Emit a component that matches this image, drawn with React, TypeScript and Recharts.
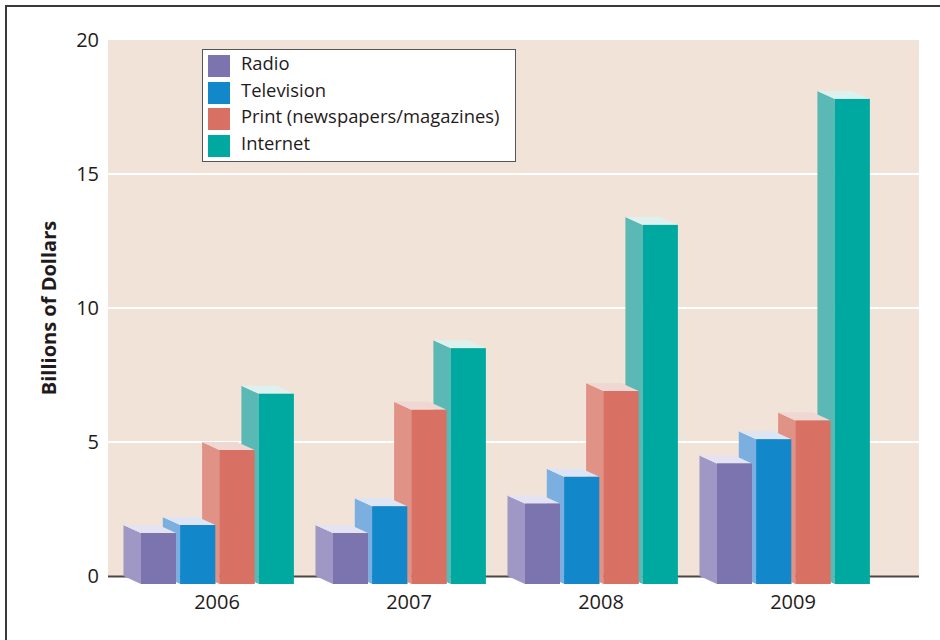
import { BarChart, Bar, XAxis, YAxis, CartesianGrid, Legend } from 'recharts'

const YEARS = ['2006', '2007', '2008', '2009']
const RADIO = [1.9, 1.9, 3.0, 4.5]
const TELEVISION = [2.2, 2.9, 4.0, 5.4]
const PRINT = [5.0, 6.5, 7.2, 6.1]
const INTERNET = [7.1, 8.8, 13.4, 18.1]
const Y_TICKS = [0, 5, 10, 15, 20]

const SERIES = [
  { key: 'radio', label: 'Radio', front: '#7b74ae', side: '#9f97c4', top: '#e5e3f1' },
  { key: 'television', label: 'Television', front: '#1287c9', side: '#7aafdf', top: '#dde5f5' },
  { key: 'print', label: 'Print (newspapers/magazines)', front: '#d87163', side: '#e09286', top: '#efd8d3' },
  { key: 'internet', label: 'Internet', front: '#00a99f', side: '#5bb9b5', top: '#ddf1ee' },
]

const data = YEARS.map((year, i) => ({
  year,
  radio: RADIO[i],
  television: TELEVISION[i],
  print: PRINT[i],
  internet: INTERNET[i],
}))

const FONT = '"Open Sans", sans-serif'
const TEXT = '#1f1b1c'
const BAR_SIZE = 35
const BAR_GAP = 4.3
// fake depth: back face sits up-left of the front face
const DX = 17.5
const DY = 8

type Look = (typeof SERIES)[number]

function faces(x: number, top: number, w: number, base: number, s: Look, withSide: boolean) {
  const bx = x - DX
  return (
    <g>
      {withSide && (
        <polygon
          points={`${bx},${top} ${x},${top + DY} ${x},${base + DY} ${bx},${base}`}
          fill={s.side}
        />
      )}
      <polygon
        points={`${bx},${top} ${bx + w},${top} ${x + w},${top + DY} ${x},${top + DY}`}
        fill={s.top}
      />
      <rect x={x} y={top + DY} width={w} height={base - top} fill={s.front} />
    </g>
  )
}

// left bars stand in front, so each bar repaints the neighbour on its left
function makeShape(idx: number) {
  return (props: any) => {
    const { x, y, width, height, payload } = props
    const s = SERIES[idx]
    const base = y + height
    let prevPart = null
    if (idx > 0) {
      const prev = SERIES[idx - 1]
      const v = payload[s.key]
      const ph = v ? (payload[prev.key] * height) / v : 0
      prevPart = faces(x - BAR_SIZE - BAR_GAP, base - ph, width, base, prev, false)
    }
    return (
      <g>
        {faces(x, y, width, base, s, true)}
        {prevPart}
      </g>
    )
  }
}

function gridLine(props: any) {
  const { x1, x2, y1, y, height, index } = props
  if (Math.abs(y1 - y) < 1) return <g key={`gl-${index}`} />
  const isBase = Math.abs(y1 - (y + height)) < 1
  return (
    <line
      key={`gl-${index}`}
      x1={x1}
      x2={x2}
      y1={isBase ? y1 + 0.5 : y1}
      y2={isBase ? y1 + 0.5 : y1}
      stroke={isBase ? '#4f4747' : '#ffffff'}
      strokeWidth={2}
    />
  )
}

function YLabel(props: any) {
  const vb = props.viewBox || { x: 0, y: 40, width: 108, height: 536 }
  const cy = vb.y + vb.height / 2
  const cx = 56
  return (
    <text
      x={cx}
      y={cy}
      transform={`rotate(-90 ${cx} ${cy})`}
      textAnchor="middle"
      fontFamily={FONT}
      fontWeight={700}
      fontSize={20}
      fill={TEXT}
    >
      Billions of Dollars
    </text>
  )
}

function LegendBox() {
  return (
    <div
      style={{
        boxSizing: 'border-box',
        width: 314,
        height: 113,
        border: '1px solid #555',
        background: '#fff',
        padding: '5px 0 0 5px',
        fontFamily: FONT,
        fontSize: 18.4,
        color: TEXT,
      }}
    >
      {SERIES.map((s) => (
        <div key={s.key} style={{ display: 'flex', alignItems: 'flex-start', height: 26.6 }}>
          <span style={{ width: 22, height: 22, background: s.front, marginRight: 11, flexShrink: 0 }} />
          <span style={{ lineHeight: '16px', whiteSpace: 'nowrap' }}>{s.label}</span>
        </div>
      ))}
    </div>
  )
}

export default function App() {
  return (
    <div style={{ position: 'absolute', left: 0, top: 0, width: 940, height: 640, background: '#fff', overflow: 'hidden' }}>
      <div
        style={{
          position: 'absolute',
          left: 5,
          top: 5,
          width: 960,
          height: 660,
          borderLeft: '2px solid #3a3a3a',
          borderTop: '2px solid #3a3a3a',
        }}
      />
      <BarChart
        width={940}
        height={640}
        data={data}
        margin={{ top: 40, right: 21, bottom: 34, left: 0 }}
        barSize={BAR_SIZE}
        barGap={BAR_GAP}
      >
        <CartesianGrid vertical={false} horizontal={gridLine} fill="#f1e3d7" stroke="none" />
        <XAxis
          dataKey="year"
          axisLine={false}
          tickLine={false}
          tickMargin={13}
          height={30}
          padding={{ left: 13, right: 30 }}
          tick={{ fontSize: 20, fill: TEXT, fontFamily: FONT }}
        />
        <YAxis
          domain={[0, 20]}
          ticks={Y_TICKS}
          axisLine={false}
          tickLine={false}
          tickMargin={3}
          width={108}
          tick={{ fontSize: 20, fill: TEXT, fontFamily: FONT }}
          label={YLabel}
        />
        <Legend
          layout="vertical"
          align="center"
          verticalAlign="middle"
          wrapperStyle={{ left: 202, top: 49, width: 314 }}
          content={<LegendBox />}
        />
        {SERIES.map((s, i) => (
          <Bar
            key={s.key}
            dataKey={s.key}
            name={s.label}
            fill={s.front}
            shape={makeShape(i)}
            isAnimationActive={false}
          />
        ))}
      </BarChart>
    </div>
  )
}
